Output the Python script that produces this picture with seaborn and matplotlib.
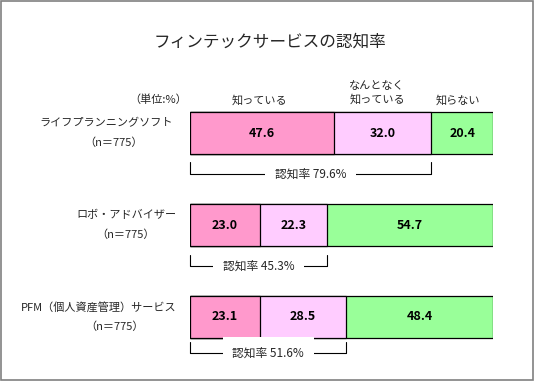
import matplotlib
matplotlib.use("Agg")
import matplotlib.pyplot as plt
import seaborn as sns
import pandas as pd
from matplotlib.patches import Rectangle

# ---- data ----
services = ["ライフプランニングソフト", "ロボ・アドバイザー", "PFM（個人資産管理）サービス"]
sample_labels = ["（n＝775）", "（n＝775）", "（n＝775）"]
segments = ["知っている", "なんとなく\n知っている", "知らない"]
know = [47.6, 23.0, 23.1]
somewhat = [32.0, 22.3, 28.5]
dont_know = [20.4, 54.7, 48.4]
awareness = [79.6, 45.3, 51.6]
title = "フィンテックサービスの認知率"
unit_label = "（単位:%）"
aware_label = "認知率"

# ---- style ----
sns.set_theme(style="white")
plt.rcParams["font.family"] = ["Noto Sans CJK JP", "DejaVu Sans"]
colors = ["#FF99CC", "#FFCCFF", "#99FF99"]

W, H = 535, 382
fig = plt.figure(figsize=(W / 100, H / 100), dpi=100)
fig.patch.set_facecolor("white")

def px_x(p):
    return p / W

def px_y(p):
    return 1 - p / H

# axes: x 0..100 -> pixels 190..493 ; category centers at 133, 225, 317
ax = fig.add_axes([px_x(190), px_y(363), (493 - 190) / W, (363 - 87) / H])

df = pd.DataFrame({"service": services, "know": know, "somewhat": somewhat, "dont": dont_know})
df["c1"] = df["know"]
df["c2"] = df["know"] + df["somewhat"]
df["c3"] = df["c2"] + df["dont"]

for col, colr in zip(["c3", "c2", "c1"], colors[::-1]):
    sns.barplot(data=df, x=col, y="service", orient="h", color=colr, width=0.46,
                edgecolor="black", linewidth=0.9, ax=ax, saturation=1, errorbar=None)

ax.set_xlim(0, 100)
ax.set_ylim(2.5, -0.5)
ax.axis("off")

# values in bars
for i in range(len(services)):
    starts = [0, know[i], know[i] + somewhat[i]]
    vals = [know[i], somewhat[i], dont_know[i]]
    for s, v in zip(starts, vals):
        ax.text(s + v / 2, i, f"{v:.1f}", ha="center", va="center",
                fontsize=9, fontweight="bold", color="black")

# category labels (two lines)
name_right_px = [173, 177, 177]
n_center_px = [114, 126, 115]
tr = matplotlib.transforms.blended_transform_factory(fig.transFigure, ax.transData)
for i in range(len(services)):
    ax.text(px_x(name_right_px[i]), i - 0.11, services[i], transform=tr,
            ha="right", va="center", fontsize=8)
    ax.text(px_x(n_center_px[i]), i + 0.11, sample_labels[i], transform=tr,
            ha="center", va="center", fontsize=8)

# awareness brackets
br_top = [0.315, 0.325, 0.27]
br_bot = [0.45, 0.445, 0.39]
for i in range(len(services)):
    a = awareness[i]
    yt, yb = i + br_top[i], i + br_bot[i]
    ax.plot([0, 0, a, a], [yt, yb, yb, yt], color="black", lw=0.8, clip_on=False)
    ax.text(a / 2, yb, f"{aware_label} {a:.1f}%", ha="center", va="center", fontsize=8.5,
            bbox=dict(facecolor="white", edgecolor="none", pad=7), clip_on=False)

# title & legend-like headers
fig.text(px_x(270), px_y(42), title, ha="center", va="center", fontsize=12)
fig.text(px_x(158), px_y(100), unit_label, ha="center", va="center", fontsize=8)
fig.text(px_x(259), px_y(100), segments[0], ha="center", va="center", fontsize=8)
fig.text(px_x(377), px_y(93), segments[1], ha="center", va="center", fontsize=8,
         linespacing=1.4)
fig.text(px_x(458), px_y(100), segments[2], ha="center", va="center", fontsize=8)

# outer border
fig.add_artist(Rectangle((px_x(1), px_y(380)), px_x(532), (380 - 1) / H,
                         transform=fig.transFigure, fill=False, edgecolor="#808080", lw=1.2))

fig.savefig("out.png", dpi=100)
